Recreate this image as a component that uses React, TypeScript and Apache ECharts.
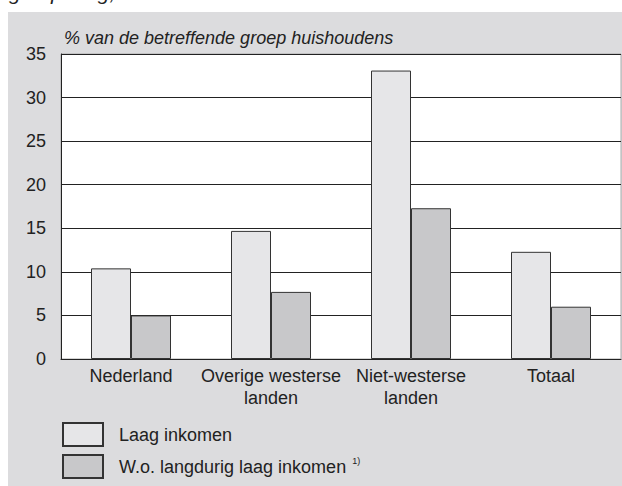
import React, { useEffect, useRef } from "react";
import * as echarts from "echarts";

const categories = ["Nederland", "Overige westerse\nlanden", "Niet-westerse\nlanden", "Totaal"];
const laagInkomen = [10.4, 14.7, 33.1, 12.3];
const langdurig = [5.0, 7.7, 17.3, 6.0];
const seriesNames = ["Laag inkomen", "W.o. langdurig laag inkomen"];
const yTitle = "% van de betreffende groep huishoudens";

export default function App() {
  const ref = useRef<HTMLDivElement>(null);
  useEffect(() => {
    if (!ref.current) return;
    const chart = echarts.init(ref.current, undefined, { renderer: "svg" });
    const font = "Liberation Sans, Arial, sans-serif";
    const legendBase = {
      orient: "vertical",
      left: 57,
      itemWidth: 40,
      itemHeight: 23,
      icon: "rect",
      formatter: (name: string) =>
        name === seriesNames[1] ? `{a|${name}}{s|1)}` : `{a|${name}}`,
      textStyle: {
        fontSize: 18,
        color: "#222",
        fontFamily: font,
        rich: {
          a: { fontSize: 18, color: "#222", padding: [0, 0, 0, 11], fontFamily: font },
          s: { fontSize: 9, color: "#222", padding: [0, 0, 12, 6], fontFamily: font },
        },
      },
    };
    chart.setOption({
      animation: false,
      backgroundColor: "#ffffff",
      textStyle: { fontFamily: font },
      graphic: [
        {
          type: "rect",
          z: -10,
          shape: { x: 8, y: 12, width: 614, height: 474 },
          style: { fill: "#dcdcde" },
        },
        {
          type: "text",
          x: 9,
          y: -8,
          style: {
            text: "groepering,",
            font: "italic 21px Liberation Sans, Arial, sans-serif",
            fill: "#222",
            verticalAlign: "middle",
          },
        },
        {
          type: "text",
          x: 64,
          y: 38,
          style: {
            text: yTitle,
            font: "italic 18px Liberation Sans, Arial, sans-serif",
            fill: "#222",
            verticalAlign: "middle",
          },
        },
      ],
      grid: {
        left: 61,
        right: 1,
        top: 54,
        bottom: 127,
        show: true,
        backgroundColor: "#ffffff",
        borderColor: "#aaaaaa",
        borderWidth: 1,
      },
      legend: [
        { ...legendBase, top: 417, data: [seriesNames[0]] },
        { ...legendBase, top: 449, data: [seriesNames[1]] },
      ],
      xAxis: {
        type: "category",
        data: categories,
        axisLine: { show: true, lineStyle: { color: "#222", width: 1 } },
        axisTick: { show: false },
        axisLabel: { fontSize: 18, color: "#222", lineHeight: 22, margin: 6, interval: 0, fontFamily: font },
      },
      yAxis: {
        type: "value",
        min: 0,
        max: 35,
        interval: 5,
        axisLine: { show: true, lineStyle: { color: "#222", width: 1 } },
        axisTick: { show: false },
        axisLabel: { fontSize: 18, color: "#222", margin: 15, fontFamily: font },
        splitLine: { show: true, lineStyle: { color: "#222", width: 1 } },
      },
      series: [
        {
          name: seriesNames[0],
          type: "bar",
          data: laagInkomen,
          barWidth: 40,
          barGap: "0%",
          itemStyle: { color: "#e6e6e8", borderColor: "#333", borderWidth: 1 },
        },
        {
          name: seriesNames[1],
          type: "bar",
          data: langdurig,
          barWidth: 40,
          barGap: "0%",
          itemStyle: { color: "#c8c8ca", borderColor: "#333", borderWidth: 1 },
        },
      ],
    });
    return () => chart.dispose();
  }, []);
  return (
    <div
      ref={ref}
      style={{ position: "fixed", left: 0, top: 0, width: 622, height: 486 }}
    />
  );
}
